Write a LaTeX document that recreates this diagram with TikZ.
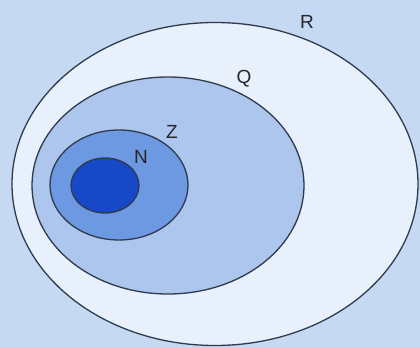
\documentclass[tikz,border=0pt]{standalone}
\usepackage{fontspec}
\setmainfont{Liberation Sans}
\usetikzlibrary{shapes.geometric}
\definecolor{bgblue}{RGB}{198,217,243}
\definecolor{rfill}{RGB}{231,240,251}
\definecolor{qfill}{RGB}{172,198,238}
\definecolor{zfill}{RGB}{108,153,226}
\definecolor{nfill}{RGB}{22,72,200}
\definecolor{edge}{RGB}{48,58,78}
\tikzset{
  setbox/.style={ellipse, draw=edge, line width=1.3pt, inner sep=0pt},
  setlabel/.style={font=\fontsize{19}{19}\selectfont, text=black!85, inner sep=0pt}
}
\begin{document}
\begin{tikzpicture}[x=1pt,y=-1pt]
\fill[bgblue] (0,0) rectangle (420,347);
\useasboundingbox (0,0) rectangle (420,347);
\node[setbox, fill=rfill, minimum width=406pt, minimum height=323pt] (R) at (215,184) {};
\node[setbox, fill=qfill, minimum width=272pt, minimum height=217pt] (Q) at (168,185.5) {};
\node[setbox, fill=zfill, minimum width=138pt, minimum height=110pt] (Z) at (119,185) {};
\node[setbox, fill=nfill, minimum width=68pt, minimum height=55pt] (N) at (105,185.5) {};
\node[setlabel] (Rl) at (307,22) {R};
\node[setlabel] (Ql) at (244,79) {Q};
\node[setlabel] (Zl) at (172,132) {Z};
\node[setlabel] (Nl) at (141,157) {N};
\end{tikzpicture}
\end{document}
